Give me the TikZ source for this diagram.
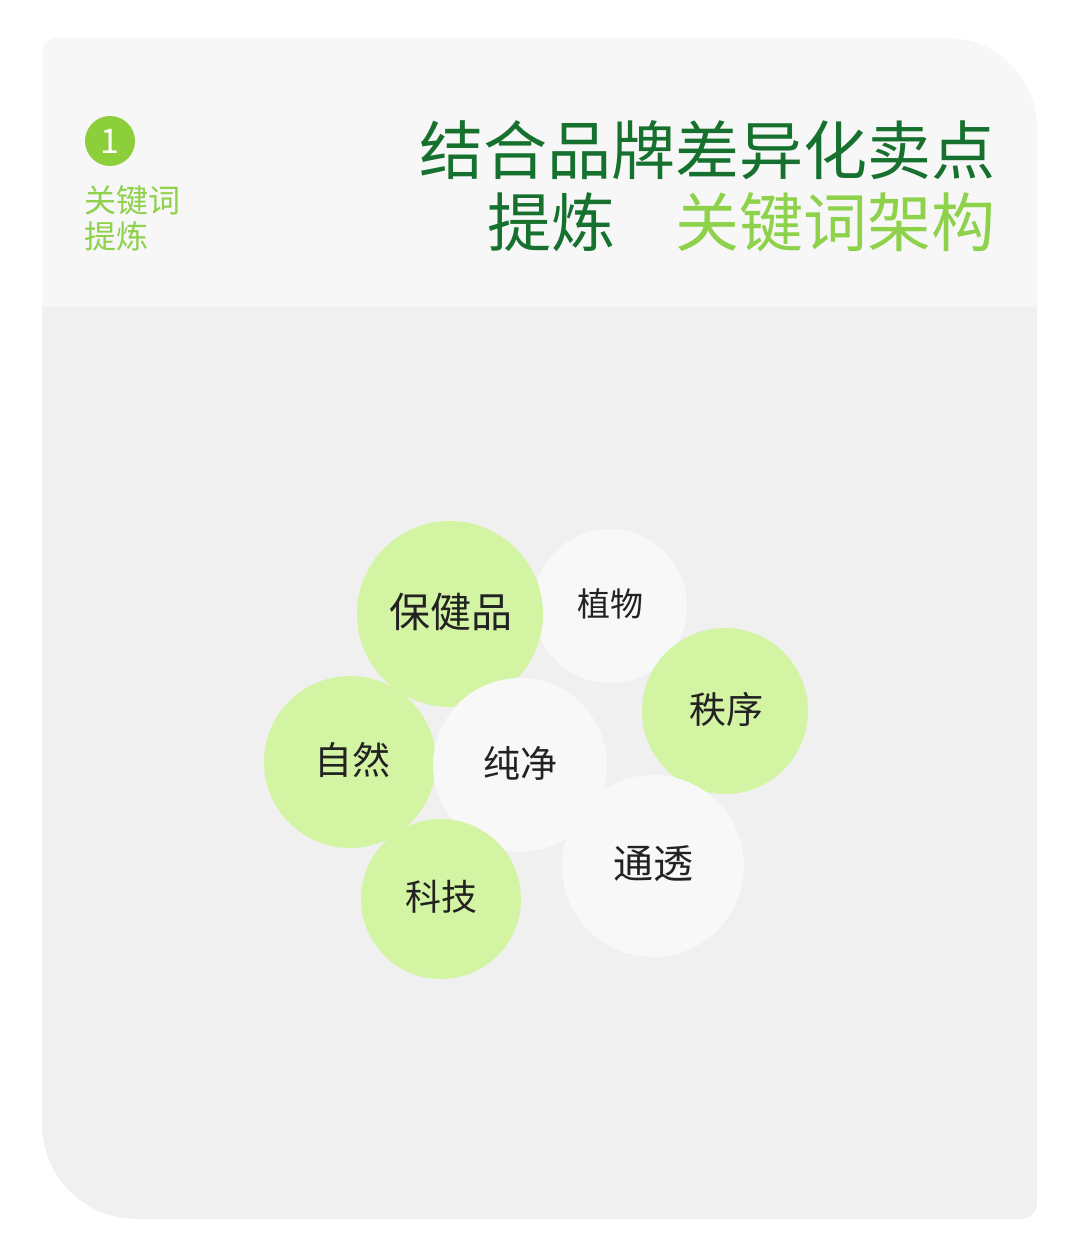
\documentclass[tikz,border=0pt]{standalone}
\usepackage{fontspec}
\newfontfamily\cjk{Noto Sans CJK SC}
\definecolor{hdr}{HTML}{F7F7F7}
\definecolor{body}{HTML}{F0F0F0}
\definecolor{dkgreen}{HTML}{16702E}
\definecolor{ltgreen}{HTML}{8ED14A}
\definecolor{badge}{HTML}{8CCF3A}
\definecolor{bubgreen}{HTML}{D3F4A2}
\definecolor{bubwhite}{HTML}{F8F8F8}
\definecolor{ink}{HTML}{222222}
\begin{document}
\begin{tikzpicture}[x=1pt,y=1pt,
  bub/.style={circle,inner sep=0pt,minimum size=#1},
  gbub/.style={bub=#1,fill=bubgreen},
  wbub/.style={bub=#1,fill=bubwhite},
  lbl/.style={font=\cjk\fontsize{#1}{#1}\selectfont,text=ink,inner sep=0pt},
  ttl/.style={font=\cjk\fontsize{64}{64}\selectfont,inner sep=0pt,anchor=east},
  side/.style={font=\cjk\fontsize{32}{36}\selectfont,text=ltgreen,inner sep=0pt,anchor=west}]
\useasboundingbox (0,0) rectangle (1080,-1244);
\fill[white] (0,0) rectangle (1080,-1244);
\begin{scope}
\clip (57,-38) -- (947,-38) arc[start angle=90,end angle=0,radius=90]
  -- (1037,-1203) arc[start angle=0,end angle=-90,radius=16]
  -- (137,-1219) arc[start angle=270,end angle=180,radius=95]
  -- (42,-53) arc[start angle=180,end angle=90,radius=15] -- cycle;
\fill[hdr] (0,0) rectangle (1080,-307);
\fill[body] (0,-307) rectangle (1080,-1244);
\end{scope}
% header
\node[circle,fill=badge,minimum size=50pt,inner sep=0pt] (badge) at (110,-141) {};
\node[font=\cjk\fontsize{34}{34}\selectfont,text=white,inner sep=0pt] (one) at (badge) {1};
\node[side] (s1) at (84,-200) {关键词};
\node[side] (s2) at (84,-236) {提炼};
\node[ttl,text=dkgreen] (t1) at (996,-150) {结合品牌差异化卖点};
\node[ttl,text=ltgreen] (t2b) at (996,-222) {关键词架构};
\node[ttl,text=dkgreen] (t2a) at (616,-222) {提炼};
% bubbles
\node[wbub=154pt] (zhiwu) at (610,-606) {};
\node[gbub=186pt] (baojian) at (450,-614) {};
\node[gbub=166pt] (zhixu) at (725,-711) {};
\node[gbub=172pt] (ziran) at (350,-762) {};
\node[wbub=182pt] (tongtou) at (653,-866) {};
\node[wbub=174pt] (chunjing) at (520,-765) {};
\node[gbub=160pt] (keji) at (441,-899) {};
\node[lbl=41] at (451,-612) {保健品};
\node[lbl=33] at (610,-604) {植物};
\node[lbl=37] at (726,-709) {秩序};
\node[lbl=38] at (352,-760) {自然};
\node[lbl=37] at (520,-763) {纯净};
\node[lbl=40] at (653,-864) {通透};
\node[lbl=36] at (441,-897) {科技};
\end{tikzpicture}
\end{document}
